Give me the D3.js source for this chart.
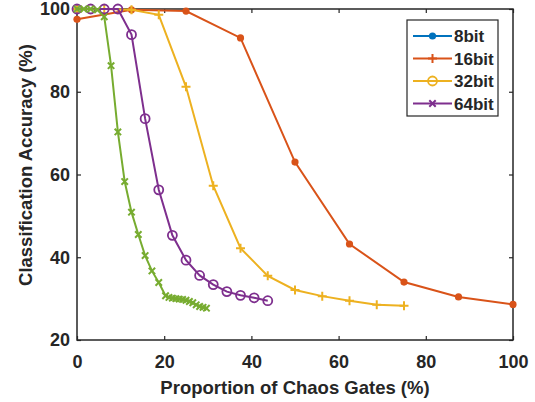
<!DOCTYPE html>
<html>
<head>
<meta charset="utf-8">
<script src="https://cdn.jsdelivr.net/npm/d3@7.9.0/dist/d3.min.js"></script>
<style>
  body { margin: 0; background: #fff; }
  text { font-family: "Liberation Sans", Arial, sans-serif; font-weight: bold; fill: #262626; }
</style>
</head>
<body>
<svg id="chart" width="535" height="402"></svg>
<script>
// series data
const orangeX = [0, 12.5, 25, 37.5, 50, 62.5, 75, 87.5, 100];
const orangeY = [97.5, 99.8, 99.5, 93.0, 63.0, 43.2, 34.0, 30.4, 28.6];

const yellowX = [0, 6.25, 12.5, 18.75, 25, 31.25, 37.5, 43.75, 50, 56.25, 62.5, 68.75, 75];
const yellowY = [100, 100, 99.8, 98.6, 81.2, 57.3, 42.2, 35.5, 32.1, 30.6, 29.5, 28.5, 28.3];

const purpleX = [0, 3.125, 6.25, 9.375, 12.5, 15.625, 18.75, 21.875, 25, 28.125, 31.25, 34.375, 37.5, 40.625, 43.75];
const purpleY = [100, 100, 100, 100, 93.8, 73.5, 56.3, 45.3, 39.3, 35.6, 33.4, 31.7, 30.8, 30.2, 29.5];

const greenX = [0, 1.5625, 3.125, 4.6875, 6.25, 7.8125, 9.375, 10.9375, 12.5, 14.0625, 15.625, 17.1875, 18.75, 20.3125,
  21.09, 21.875, 22.66, 23.44, 24.22, 25, 25.78, 26.56, 27.34, 28.125, 28.91, 29.69];
const greenY = [100, 100, 100, 99.8, 98.1, 86.3, 70.3, 58.3, 50.9, 45.5, 40.4, 36.7, 33.9, 30.7,
  30.3, 30.1, 30.0, 29.9, 29.8, 29.6, 29.3, 29.0, 28.5, 28.1, 27.9, 27.7];

const legendLabels = ['8bit', '16bit', '32bit', '64bit'];
const xTicks = [0, 20, 40, 60, 80, 100];
const yTicks = [20, 40, 60, 80, 100];

const C = { blue: '#0072BD', orange: '#D95319', yellow: '#EDB120', purple: '#7E2F8E', green: '#77AC30' };

const series = [
  { xs: orangeX, ys: orangeY, color: C.orange, marker: 'dot' },
  { xs: yellowX, ys: yellowY, color: C.yellow, marker: 'plus' },
  { xs: purpleX, ys: purpleY, color: C.purple, marker: 'circle' },
  { xs: greenX, ys: greenY, color: C.green, marker: 'cross' },
];
const legendStyles = [
  { color: C.blue, marker: 'dot' },
  { color: C.orange, marker: 'plus' },
  { color: C.yellow, marker: 'circle' },
  { color: C.purple, marker: 'cross' },
];

const svg = d3.select('#chart');
const L = 77, R = 513, T = 9, B = 340;
const x = d3.scaleLinear().domain([0, 100]).range([L, R]);
const y = d3.scaleLinear().domain([20, 100]).range([B, T]);
const axisColor = '#262626';

// axes (box with inward ticks)
svg.append('g').attr('transform', `translate(0,${B})`)
  .call(d3.axisBottom(x).tickValues(xTicks).tickSizeInner(-4).tickSizeOuter(0).tickPadding(15))
  .call(g => g.select('.domain').remove());
svg.append('g').attr('transform', `translate(0,${T})`)
  .call(d3.axisTop(x).tickValues(xTicks).tickSizeInner(-4).tickSizeOuter(0).tickFormat(''))
  .call(g => g.select('.domain').remove());
svg.append('g').attr('transform', `translate(${L},0)`)
  .call(d3.axisLeft(y).tickValues(yTicks).tickSizeInner(-4).tickSizeOuter(0).tickPadding(7))
  .call(g => g.select('.domain').remove());
svg.append('g').attr('transform', `translate(${R},0)`)
  .call(d3.axisRight(y).tickValues(yTicks).tickSizeInner(-4).tickSizeOuter(0).tickFormat(''))
  .call(g => g.select('.domain').remove());

svg.selectAll('.tick line').attr('stroke', axisColor).attr('stroke-width', 1.2);
svg.selectAll('.tick text').attr('font-size', 18).attr('fill', axisColor)
  .attr('font-family', '"Liberation Sans", Arial, sans-serif').attr('font-weight', 'bold');

svg.append('rect').attr('x', L).attr('y', T).attr('width', R - L).attr('height', B - T)
  .attr('fill', 'none').attr('stroke', axisColor).attr('stroke-width', 1.5);

// axis titles
svg.append('text').attr('x', 295).attr('y', 393.5).attr('text-anchor', 'middle')
  .attr('font-size', 18.5).text('Proportion of Chaos Gates (%)');
svg.append('text').attr('transform', 'translate(32,165) rotate(-90)')
  .attr('text-anchor', 'middle').attr('font-size', 18.5).text('Classification Accuracy (%)');

function drawMarker(g, type, cx, cy, color) {
  if (type === 'dot') {
    g.append('circle').attr('cx', cx).attr('cy', cy).attr('r', 3.6).attr('fill', color);
  } else if (type === 'circle') {
    g.append('circle').attr('cx', cx).attr('cy', cy).attr('r', 4.5)
      .attr('fill', 'none').attr('stroke', color).attr('stroke-width', 1.8);
  } else if (type === 'plus') {
    const s = 4.5;
    g.append('path').attr('d', `M${cx - s},${cy}H${cx + s}M${cx},${cy - s}V${cy + s}`)
      .attr('stroke', color).attr('stroke-width', 2);
  } else if (type === 'cross') {
    const s = 3.2;
    g.append('path').attr('d', `M${cx - s},${cy - s}L${cx + s},${cy + s}M${cx - s},${cy + s}L${cx + s},${cy - s}`)
      .attr('stroke', color).attr('stroke-width', 2);
  }
}

const line = d3.line().x(d => x(d[0])).y(d => y(d[1]));
series.forEach(s => {
  const pts = s.xs.map((v, i) => [v, s.ys[i]]);
  const g = svg.append('g');
  g.append('path').attr('d', line(pts)).attr('fill', 'none')
    .attr('stroke', s.color).attr('stroke-width', 2);
  pts.forEach(p => drawMarker(g, s.marker, x(p[0]), y(p[1]), s.color));
});

// legend
const lg = svg.append('g');
lg.append('rect').attr('x', 407).attr('y', 20).attr('width', 91).attr('height', 96)
  .attr('fill', '#fff').attr('stroke', axisColor).attr('stroke-width', 1.2);
legendLabels.forEach((lab, i) => {
  const yy = 36 + i * 22.5;
  const st = legendStyles[i];
  lg.append('line').attr('x1', 413).attr('x2', 452).attr('y1', yy).attr('y2', yy)
    .attr('stroke', st.color).attr('stroke-width', 2);
  drawMarker(lg, st.marker, 432.5, yy, st.color);
  lg.append('text').attr('x', 454).attr('y', yy + 6).attr('font-size', 17).text(lab);
});
</script>
</body>
</html>
